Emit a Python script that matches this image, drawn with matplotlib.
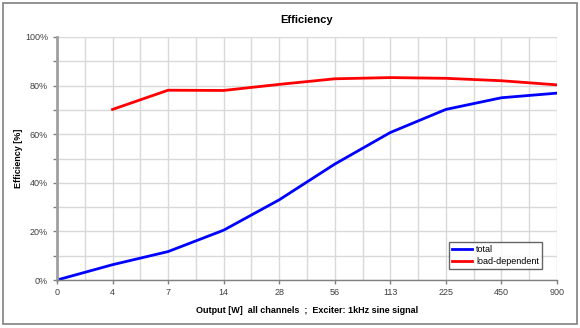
import numpy as np
import matplotlib.pyplot as plt
from matplotlib.patches import Rectangle

plt.rcParams['font.family'] = ['Liberation Sans', 'DejaVu Sans']

# Data
outputs = ['0', '4', '7', '14', '28', '56', '113', '225', '450', '900']
total = [0, 6.3, 11.7, 20.5, 33.0, 47.7, 60.7, 70.2, 75.0, 76.9]
load_dep = [np.nan, 70.2, 78.1, 78.0, 80.5, 82.8, 83.3, 83.0, 82.0, 80.3]

x = np.arange(len(outputs))

fig = plt.figure(figsize=(5.8, 3.28), dpi=100)
ax = fig.add_axes([57/580, 1 - 280/328, 500/580, 243/328])

# Outer frame
fig.patches.append(Rectangle((3/580, 4/328), 574/580, 321/328, transform=fig.transFigure,
                             fill=False, edgecolor='#808080', linewidth=1.2))

ax.plot(x, total, color='#0000ff', linewidth=2, label='total')
ax.plot(x, load_dep, color='#ff0000', linewidth=2, label='load-dependent')

ax.set_xlim(0, len(outputs) - 1)
ax.set_ylim(0, 100)
ax.set_xticks(x)
ax.set_xticklabels(outputs)
ax.set_xticks(x[:-1] + 0.5, minor=True)
ax.set_yticks(np.arange(0, 101, 20))
ax.set_yticklabels(['%d%%' % v for v in range(0, 101, 20)])
ax.set_yticks(np.arange(10, 100, 20), minor=True)

ax.grid(True, which='both', color='#d9d9d9', linewidth=1)
ax.set_axisbelow(True)
ax.tick_params(axis='both', which='both', labelsize=6.5, labelcolor='#404040',
               color='#808080', length=3, width=1)
ax.tick_params(axis='x', which='minor', length=0)
ax.tick_params(axis='x', pad=3)

for side in ['top', 'right']:
    ax.spines[side].set_visible(False)
ax.spines['left'].set_color('#a0a0a0')
ax.spines['left'].set_linewidth(2)
ax.spines['bottom'].set_color('#808080')
ax.spines['bottom'].set_linewidth(1)

ax.set_title('Efficiency', fontsize=8, fontweight='bold', pad=10)
ax.set_xlabel('Output [W]  all channels  ;  Exciter: 1kHz sine signal',
              fontsize=6.5, fontweight='bold', labelpad=6)
ax.set_ylabel('Efficiency [%]', fontsize=6.5, fontweight='bold', labelpad=1)

leg = ax.legend(loc='lower right', bbox_to_anchor=(0.97, 0.045), fontsize=6.5,
                frameon=True, fancybox=False, handlelength=2.2, handletextpad=0.5,
                borderpad=0.3, labelspacing=0.4, borderaxespad=0)
leg.get_frame().set_edgecolor('#404040')
leg.get_frame().set_linewidth(1)

fig.savefig('out.png', dpi=100)
